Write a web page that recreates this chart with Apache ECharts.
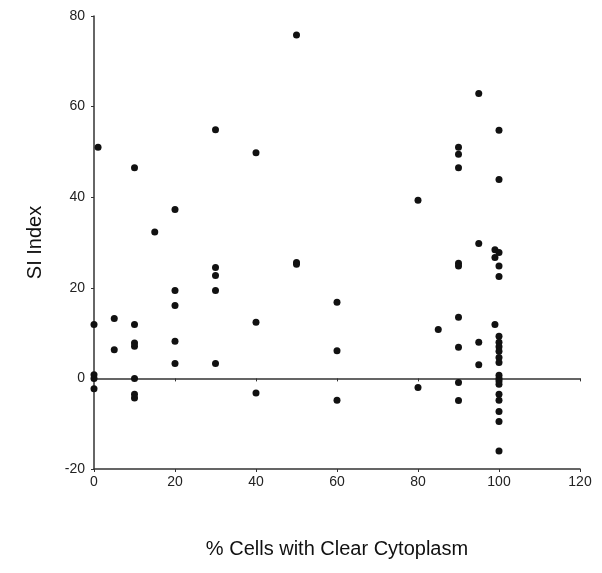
<!DOCTYPE html>
<html>
<head>
<meta charset="utf-8">
<script src="https://cdn.jsdelivr.net/npm/echarts@6/dist/echarts.min.js"></script>
<style>
html,body{margin:0;padding:0;background:#fff;}
#chart{width:602px;height:573px;}
</style>
</head>
<body>
<div id="chart"></div>
<script>
// % cells with clear cytoplasm (x) and SI index (y)
const xValues = [
  0, 0, 0, 0,
  1,
  5, 5,
  10, 10, 10, 10, 10, 10, 10,
  15,
  20, 20, 20, 20, 20,
  30, 30, 30, 30, 30,
  40, 40, 40,
  50, 50, 50,
  60, 60, 60,
  80, 80,
  85,
  90, 90, 90, 90, 90, 90, 90, 90, 90,
  95, 95, 95, 95,
  99, 99, 99,
  100, 100, 100, 100, 100, 100, 100, 100, 100, 100, 100, 100, 100, 100, 100, 100, 100, 100, 100, 100
];
const yValues = [
  11.9, 0.8, 0, -2.3,
  51,
  13.2, 6.3,
  46.5, 11.9, 7.8, 7.1, 0, -3.5, -4.3,
  32.3,
  37.3, 19.4, 16.1, 8.2, 3.3,
  54.9, 24.5, 22.7, 19.4, 3.3,
  49.8, 12.4, -3.2,
  75.8, 25.6, 25.2,
  16.8, 6.1, -4.8,
  39.3, -2,
  10.8,
  51, 49.5, 46.5, 25.4, 24.8, 13.5, 6.9, -0.9, -4.9,
  62.9, 29.8, 8.0, 3.0,
  28.4, 26.7, 11.9,
  54.8, 43.9, 27.8, 24.8, 22.5, 9.3, 8, 7, 6, 4.6, 3.5, 0.7, 0, -0.6, -1.3, -3.5, -4.8, -7.3, -9.5, -16
];
const xTicks = [0, 20, 40, 60, 80, 100, 120];
const yTicks = [-20, 0, 20, 40, 60, 80];
const xTitle = '% Cells with Clear Cytoplasm';
const yTitle = 'SI Index';

const points = xValues.map((x, i) => [x, yValues[i]]);
const FONT = '"Liberation Sans", Arial, sans-serif';
const axisColor = '#333';

const chart = echarts.init(document.getElementById('chart'), null, {renderer: 'canvas'});
chart.setOption({
  backgroundColor: '#ffffff',
  animation: false,
  grid: {left: 94, right: 22, top: 16, bottom: 104, containLabel: false},
  xAxis: [{
    type: 'value',
    min: xTicks[0], max: xTicks[xTicks.length - 1], interval: 20,
    position: 'bottom',
    axisLine: {onZero: false, lineStyle: {color: axisColor, width: 1.5}},
    axisTick: {show: true, length: 3, inside: false, lineStyle: {color: axisColor}},
    axisLabel: {color: '#222', fontSize: 14, fontFamily: FONT, margin: 6},
    splitLine: {show: false},
    name: xTitle, nameLocation: 'middle', nameGap: 70,
    nameTextStyle: {color: '#111', fontSize: 20, fontFamily: FONT}
  }, {
    type: 'value',
    min: xTicks[0], max: xTicks[xTicks.length - 1], interval: 20,
    position: 'top',
    axisLine: {onZero: true, lineStyle: {color: axisColor, width: 1.5}},
    axisTick: {show: true, length: 3, inside: true, lineStyle: {color: axisColor}},
    axisLabel: {show: false},
    splitLine: {show: false}
  }],
  yAxis: {
    type: 'value',
    min: yTicks[0], max: yTicks[yTicks.length - 1], interval: 20,
    axisLine: {show: true, onZero: false, lineStyle: {color: axisColor, width: 1.5}},
    axisTick: {show: true, length: 3, lineStyle: {color: axisColor}},
    axisLabel: {color: '#222', fontSize: 14, fontFamily: FONT, margin: 9},
    splitLine: {show: false},
    name: yTitle, nameLocation: 'middle', nameGap: 49,
    nameTextStyle: {color: '#111', fontSize: 20, fontFamily: FONT}
  },
  series: [{
    type: 'scatter',
    xAxisIndex: 0,
    data: points,
    symbol: 'circle',
    symbolSize: 7,
    itemStyle: {color: '#111', opacity: 1}
  }]
});
</script>
</body>
</html>
